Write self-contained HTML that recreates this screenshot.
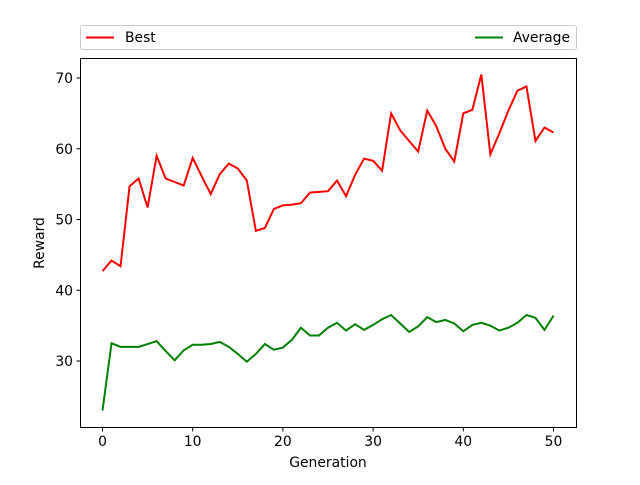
<!DOCTYPE html>
<html><head><meta charset="utf-8"><style>
body{margin:0;background:#fff}
svg text{font-family:"DejaVu Sans","Liberation Sans",sans-serif;font-size:13.9px;fill:#000}
</style></head><body>
<svg id="chart" width="640" height="480" viewBox="0 0 640 480" xmlns="http://www.w3.org/2000/svg">
<rect width="640" height="480" fill="#fff"/>
<g id="grid"></g>
<rect x="80.5" y="58.5" width="496" height="369" fill="none" stroke="#000" stroke-width="1"/>
<text x="328" y="467" text-anchor="middle">Generation</text>
<text transform="translate(44,243) rotate(-90)" text-anchor="middle">Reward</text>
<g>
<rect x="80.5" y="25.5" width="496" height="24" rx="2" fill="#fff" stroke="#ccc"/>
<line x1="86" y1="37.5" x2="114" y2="37.5" stroke="#ff0000" stroke-width="2"/>
<text x="125" y="42">Best</text>
<line x1="475" y1="37.5" x2="503" y2="37.5" stroke="#008000" stroke-width="2"/>
<text x="513" y="42">Average</text>
</g>
</svg>
<script>
const generations = Array.from({length:51},(_,i)=>i);
const bestValues = [42.7,44.2,43.4,54.7,55.8,51.7,59.0,55.8,55.3,54.8,58.7,56.1,53.6,56.4,57.9,57.2,55.5,48.4,48.8,51.5,52.0,52.1,52.3,53.8,53.9,54.0,55.5,53.3,56.3,58.6,58.3,56.9,65.0,62.6,61.1,59.6,65.4,63.2,60.0,58.2,65.0,65.5,70.5,59.2,62.2,65.4,68.2,68.8,61.1,63.0,62.3];
const averageValues = [23.0,32.5,32.0,32.0,32.0,32.4,32.8,31.4,30.1,31.5,32.3,32.3,32.4,32.7,32.0,31.0,29.9,31.0,32.4,31.6,31.9,33.0,34.7,33.6,33.6,34.7,35.4,34.3,35.2,34.4,35.1,35.9,36.5,35.3,34.1,34.9,36.2,35.5,35.8,35.3,34.2,35.1,35.4,35.0,34.3,34.7,35.4,36.5,36.1,34.4,36.4];
const xTicks = [0,10,20,30,40,50];
const yTicks = [30,40,50,60,70];
const NS="http://www.w3.org/2000/svg";
const svg=document.getElementById('chart');
const g=document.getElementById('grid');
function xs(v){return 102.5+v*(553.5-102.5)/50;}
function ys(v){return 361+(v-30)*(78-361)/40;}
xTicks.forEach(t=>{
  const l=document.createElementNS(NS,'line');
  
  
  l.setAttribute('x1',xs(t));l.setAttribute('x2',xs(t));l.setAttribute('y1',427.5);l.setAttribute('y2',431.5);l.setAttribute('stroke','#000');
  g.appendChild(l);
  const tx=document.createElementNS(NS,'text');
  
  
  tx.setAttribute('x',xs(t));tx.setAttribute('y',446);tx.setAttribute('text-anchor','middle');tx.textContent=t;
  g.appendChild(tx);
});
yTicks.forEach(t=>{
  const l=document.createElementNS(NS,'line');
  
  
  l.setAttribute('x1',76.5);l.setAttribute('x2',80.5);l.setAttribute('y1',ys(t));l.setAttribute('y2',ys(t));l.setAttribute('stroke','#000');
  g.appendChild(l);
  const tx=document.createElementNS(NS,'text');
  
  
  tx.setAttribute('x',73);tx.setAttribute('y',ys(t)+5);tx.setAttribute('text-anchor','end');tx.textContent=t;
  g.appendChild(tx);
});
function line(vals,color,name){
  const p=document.createElementNS(NS,'polyline');
  
  
  p.setAttribute('points',vals.map((v,i)=>xs(generations[i])+','+ys(v)).join(' '));
  p.setAttribute('fill','none');p.setAttribute('stroke',color);p.setAttribute('stroke-width','2');
  g.appendChild(p);
}
line(bestValues,'#ff0000','best-line');
line(averageValues,'#008000','average-line');
</script>
</body></html>
